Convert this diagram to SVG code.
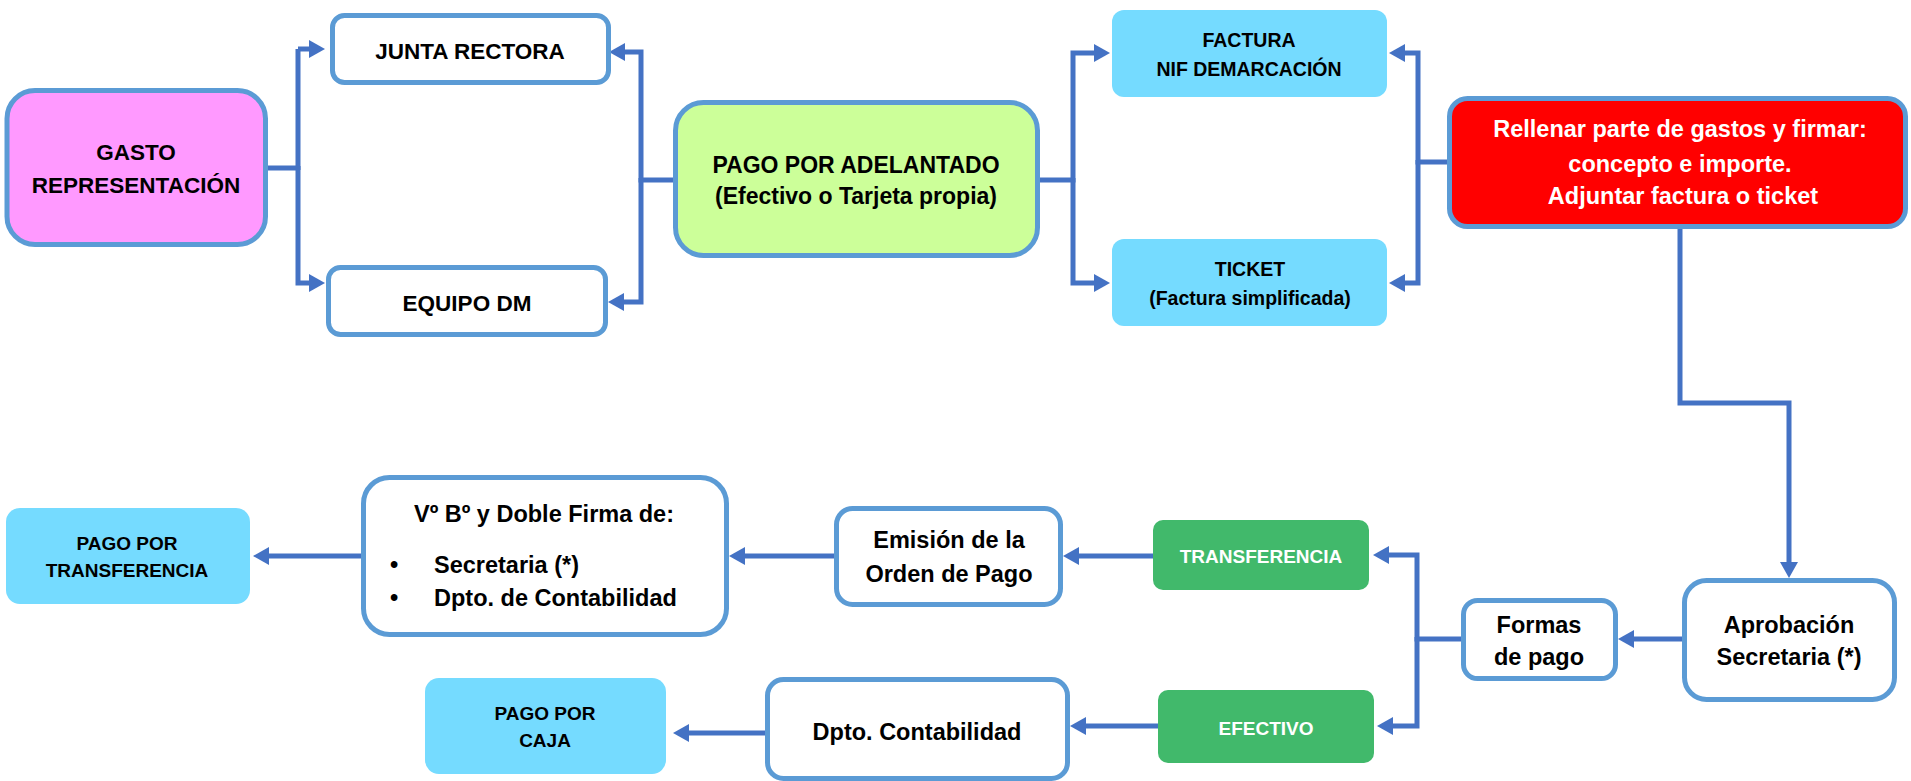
<svg xmlns="http://www.w3.org/2000/svg" width="1911" height="781" viewBox="0 0 1911 781">
<defs>
<style>
.n{stroke:#5B9BD5;stroke-width:5}
.w{fill:#FFFFFF}
.c{fill:#75DBFF}
.g{fill:#41B96B}
.t{font-family:"Liberation Sans",Arial,sans-serif;font-weight:bold;fill:#000;text-anchor:middle}
.wt{fill:#FFFFFF}
.s{font-size:23.5px}
.m{font-size:22.5px}
.x{font-size:19px}
.e{fill:none;stroke:#4472C4;stroke-width:5}
</style>
<marker id="ah" viewBox="0 0 16 18" refX="8" refY="9" markerWidth="16" markerHeight="18" markerUnits="userSpaceOnUse" orient="auto">
<path d="M0,0 L16,9 L0,18 z" fill="#4472C4"/>
</marker>
</defs>
<rect width="1911" height="781" fill="#FFFFFF"/>
<g id="connectors">
<path class="e" d="M268,168 H298 M298,170 V49"/>
<path class="e" d="M298,49 H317" marker-end="url(#ah)"/>
<path class="e" d="M298,166 V283 H317" marker-end="url(#ah)"/>
<path class="e" d="M673,180 H641 V52 H617" marker-end="url(#ah)"/>
<path class="e" d="M641,178 V302 H616" marker-end="url(#ah)"/>
<path class="e" d="M1040,180 H1073 V53 H1102" marker-end="url(#ah)"/>
<path class="e" d="M1073,178 V283 H1102" marker-end="url(#ah)"/>
<path class="e" d="M1447,162 H1418 V53 H1397" marker-end="url(#ah)"/>
<path class="e" d="M1418,160 V283 H1397" marker-end="url(#ah)"/>
<path class="e" d="M1680,229 V403 H1789 V570" marker-end="url(#ah)"/>
<path class="e" d="M1682,639 H1626" marker-end="url(#ah)"/>
<path class="e" d="M1461,639 H1417 V555 H1381" marker-end="url(#ah)"/>
<path class="e" d="M1417,637 V726 H1385" marker-end="url(#ah)"/>
<path class="e" d="M1153,556 H1071" marker-end="url(#ah)"/>
<path class="e" d="M834,556 H737" marker-end="url(#ah)"/>
<path class="e" d="M361,556 H261" marker-end="url(#ah)"/>
<path class="e" d="M1158,726 H1078" marker-end="url(#ah)"/>
<path class="e" d="M765,733 H681" marker-end="url(#ah)"/>
</g>
<g id="gasto">
<rect class="n" x="7" y="90.5" width="258.5" height="154" rx="28" fill="#FF99FF"/>
<text class="t m" x="136" y="160">GASTO</text>
<text class="t m" x="136" y="193">REPRESENTACIÓN</text>
</g>
<g id="junta">
<rect class="n w" x="332.5" y="15.5" width="276" height="67" rx="12"/>
<text class="t m" x="470" y="59">JUNTA RECTORA</text>
</g>
<g id="equipo">
<rect class="n w" x="328.5" y="267.5" width="277" height="67" rx="12"/>
<text class="t m" x="467" y="311">EQUIPO DM</text>
</g>
<g id="pago-adelantado">
<rect class="n" x="675.5" y="102.5" width="362" height="153" rx="28" fill="#CCFF99"/>
<text class="t" style="font-size:23px" x="856" y="173">PAGO POR ADELANTADO</text>
<text class="t" style="font-size:23px" x="856" y="204">(Efectivo o Tarjeta propia)</text>
</g>
<g id="factura">
<rect class="c" x="1112" y="10" width="275" height="87" rx="12"/>
<text class="t" style="font-size:19.5px" x="1249" y="47">FACTURA</text>
<text class="t" style="font-size:19.5px" x="1249" y="76">NIF DEMARCACIÓN</text>
</g>
<g id="ticket">
<rect class="c" x="1112" y="239" width="275" height="87" rx="12"/>
<text class="t" style="font-size:19.5px" x="1250" y="276">TICKET</text>
<text class="t" style="font-size:19.5px" x="1250" y="305">(Factura simplificada)</text>
</g>
<g id="rellenar">
<rect class="n" x="1449.5" y="98.5" width="456" height="128" rx="18" fill="#FF0000"/>
<text class="t s wt" x="1680" y="137">Rellenar parte de gastos y firmar:</text>
<text class="t s wt" x="1680" y="172">concepto e importe.</text>
<text class="t s wt" x="1683" y="204">Adjuntar factura o ticket</text>
</g>
<g id="aprobacion">
<rect class="n w" x="1684.5" y="580.5" width="210" height="119" rx="22"/>
<text class="t s" x="1789" y="633">Aprobación</text>
<text class="t s" x="1789" y="665">Secretaria (*)</text>
</g>
<g id="formas">
<rect class="n w" x="1463.5" y="600.5" width="152" height="78" rx="14"/>
<text class="t s" x="1539" y="633">Formas</text>
<text class="t s" x="1539" y="665">de pago</text>
</g>
<g id="transferencia">
<rect class="g" x="1153" y="520" width="216" height="70" rx="10"/>
<text class="t x wt" x="1261" y="563">TRANSFERENCIA</text>
</g>
<g id="efectivo">
<rect class="g" x="1158" y="690" width="216" height="73" rx="10"/>
<text class="t x wt" x="1266" y="735">EFECTIVO</text>
</g>
<g id="emision">
<rect class="n w" x="836.5" y="508.5" width="224" height="96" rx="16"/>
<text class="t s" x="949" y="548">Emisión de la</text>
<text class="t s" x="949" y="582">Orden de Pago</text>
</g>
<g id="vobo">
<rect class="n w" x="363.5" y="477.5" width="363" height="157" rx="26"/>
<text class="t s" x="544" y="522">Vº Bº y Doble Firma de:</text>
<text class="t s" x="394" y="573">•</text>
<text class="t s" x="434" y="573" style="text-anchor:start">Secretaria (*)</text>
<text class="t s" x="394" y="606">•</text>
<text class="t s" x="434" y="606" style="text-anchor:start">Dpto. de Contabilidad</text>
</g>
<g id="dpto">
<rect class="n w" x="767.5" y="679.5" width="300" height="99" rx="16"/>
<text class="t s" x="917" y="740">Dpto. Contabilidad</text>
</g>
<g id="pago-transferencia">
<rect class="c" x="6" y="508" width="244" height="96" rx="14"/>
<text class="t x" x="127" y="550">PAGO POR</text>
<text class="t x" x="127" y="577">TRANSFERENCIA</text>
</g>
<g id="pago-caja">
<rect class="c" x="425" y="678" width="241" height="96" rx="14"/>
<text class="t x" x="545" y="720">PAGO POR</text>
<text class="t x" x="545" y="747">CAJA</text>
</g>
</svg>
